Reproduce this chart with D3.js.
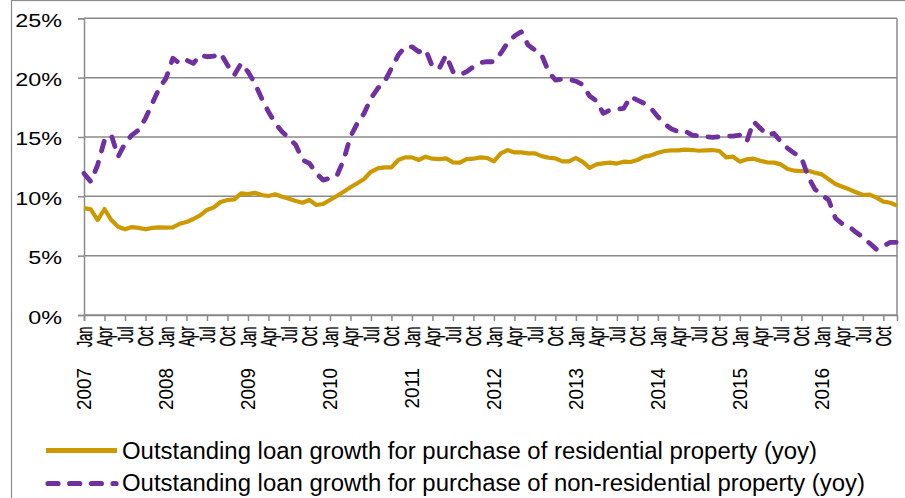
<!DOCTYPE html>
<html>
<head>
<meta charset="utf-8">
<script src="https://cdn.jsdelivr.net/npm/d3@7"></script>
<style>
  html, body { margin: 0; padding: 0; background: #fff; }
  svg { display: block; }
  text { font-family: "Liberation Sans", Arial, Helvetica, sans-serif; fill: #000; }
</style>
</head>
<body>
<svg id="chart" width="905" height="498"></svg>
<script>
// Year-on-year growth of outstanding property loans, monthly Jan 2007 - Dec 2016 (%)
const years = [2007, 2008, 2009, 2010, 2011, 2012, 2013, 2014, 2015, 2016];
const monthNames = ["Jan", "Feb", "Mar", "Apr", "May", "Jun", "Jul", "Aug", "Sep", "Oct", "Nov", "Dec"];
const yTicks = [0, 5, 10, 15, 20, 25];

const residential = [
  9.0, 8.9, 8.0, 8.93, 8.0, 7.44, 7.22, 7.41, 7.34, 7.22, 7.34, 7.38,
  7.36, 7.38, 7.69, 7.83, 8.09, 8.40, 8.85, 9.07, 9.52, 9.69, 9.74, 10.25,
  10.19, 10.3, 10.11, 10.03, 10.17, 9.97, 9.8, 9.6, 9.46, 9.69, 9.27, 9.35,
  9.69, 10.03, 10.39, 10.76, 11.1, 11.46, 12.07, 12.36, 12.44, 12.44, 13.06, 13.28,
  13.28, 13.06, 13.34, 13.17, 13.14, 13.2, 12.86, 12.84, 13.14, 13.17, 13.28, 13.23,
  12.95, 13.62, 13.9, 13.7, 13.7, 13.62, 13.62, 13.39, 13.25, 13.2, 12.95, 12.95,
  13.23, 12.9, 12.4, 12.69, 12.78, 12.84, 12.76, 12.92, 12.89, 13.06, 13.34, 13.45,
  13.67, 13.82, 13.87, 13.87, 13.93, 13.9, 13.84, 13.87, 13.9, 13.82, 13.28, 13.34,
  12.92, 13.12, 13.17, 13.0, 12.86, 12.84, 12.69, 12.3, 12.16, 12.13, 12.16, 11.99,
  11.85, 11.43, 11.04, 10.81, 10.59, 10.34, 10.11, 10.14, 9.89, 9.55, 9.46, 9.21
];

const nonResidential = [
  11.93, 11.23, 12.64, 14.74, 15.16, 13.34, 14.46, 15.16, 15.59, 16.57, 17.83, 19.1,
  19.94, 21.63, 21.2, 21.48, 21.2, 21.9, 21.76, 21.81, 22.05, 21.06, 20.22, 21.2,
  20.5, 19.52, 18.26, 17.13, 16.15, 15.44, 14.9, 14.32, 13.06, 12.78, 11.94, 11.37,
  11.52, 11.71, 13.06, 15.02, 16.15, 16.99, 18.26, 19.1, 19.66, 20.78, 21.9, 22.6,
  22.6, 22.18, 22.38, 20.92, 20.78, 21.9, 20.5, 20.22, 20.5, 20.92, 21.26, 21.34,
  21.34, 22.05, 22.94, 23.5, 23.87, 22.75, 22.33, 21.9, 20.5, 19.8, 19.88, 19.85,
  19.7, 19.4, 18.45, 18.05, 16.99, 17.27, 17.33, 17.41, 18.39, 18.11, 17.83, 17.41,
  16.71, 16.09, 15.67, 15.44, 15.5, 15.16, 15.08, 15.02, 14.97, 15.02, 15.08, 15.08,
  15.16, 14.6, 16.29, 15.73, 15.16, 15.3, 14.6, 14.04, 13.62, 13.28, 11.65, 10.59,
  10.11, 9.69, 8.15, 7.67, 7.44, 6.97, 6.55, 6.04, 5.53, 5.81, 6.12, 6.12
];

const seriesNames = [
  "Outstanding loan growth for purchase of residential property (yoy)",
  "Outstanding loan growth for purchase of non-residential property (yoy)"
];
const colors = { residential: "#CC9900", nonResidential: "#7030A0" };

// one category per month
const categories = [];
years.forEach(y => monthNames.forEach(m => categories.push({ year: y, month: m })));

const svg = d3.select("#chart");
const plot = { left: 84, right: 897, top: 18.3, bottom: 315 };

const x = d3.scaleLinear().domain([0, categories.length - 1]).range([plot.left, plot.right]);
const y = d3.scaleLinear().domain([0, 25]).range([plot.bottom, plot.top]);

// outer chart frame
svg.append("rect")
  .attr("x", 11.5).attr("y", 0.5).attr("width", 1000).attr("height", 1000)
  .attr("fill", "none").attr("stroke", "#8c8c8c").attr("stroke-width", 1.2);

// horizontal gridlines
svg.append("g").selectAll("line").data(yTicks).join("line")
  .attr("x1", plot.left).attr("x2", plot.right)
  .attr("y1", d => y(d)).attr("y2", d => y(d))
  .attr("stroke", "#8a8a8a").attr("stroke-width", 1.5);

// plot right edge
svg.append("line")
  .attr("x1", plot.right).attr("x2", plot.right)
  .attr("y1", plot.top).attr("y2", plot.bottom)
  .attr("stroke", "#8a8a8a").attr("stroke-width", 1.5);

// y axis
const yAxis = svg.append("g").attr("transform", `translate(${plot.left},0)`)
  .call(d3.axisLeft(y).tickValues(yTicks).tickSize(6).tickFormat(d => d + "%"));
yAxis.select(".domain").attr("stroke", "#8a8a8a").attr("stroke-width", 1.5);
yAxis.selectAll(".tick line").attr("stroke", "#8a8a8a").attr("stroke-width", 1.5);
yAxis.selectAll(".tick text").remove();
yAxis.selectAll(".tick").append("g")
  .attr("transform", "translate(-22,8)")
  .append("text")
  .attr("text-anchor", "end")
  .attr("font-size", 19)
  .attr("transform", "scale(1.23,1)")
  .text(d => d + "%");

// x axis: a tick every quarter
const quarterIdx = d3.range(0, categories.length, 3);
const xAxis = svg.append("g").attr("transform", `translate(0,${plot.bottom})`)
  .call(d3.axisBottom(x).tickValues(quarterIdx).tickSize(6).tickFormat(""));
xAxis.select(".domain").attr("stroke", "#8a8a8a").attr("stroke-width", 1.5);
xAxis.selectAll(".tick line").attr("stroke", "#8a8a8a").attr("stroke-width", 1.5);

// rotated month labels
const lbl = svg.append("g");
lbl.selectAll("g.m").data(quarterIdx).join("g")
  .attr("class", "m")
  .attr("transform", i => `translate(${x(i)},326.5) rotate(-90)`)
  .append("text")
  .attr("text-anchor", "end")
  .attr("font-size", 21.5)
  .attr("transform", "scale(0.6,1)")
  .attr("y", 7.7)
  .attr("stroke", "#000")
  .attr("stroke-width", 0.35)
  .text(i => categories[i].month);

// rotated year labels under each January
lbl.selectAll("g.yr").data(quarterIdx.filter(i => categories[i].month === "Jan")).join("g")
  .attr("class", "yr")
  .attr("transform", i => `translate(${x(i)},368) rotate(-90)`)
  .append("text")
  .attr("text-anchor", "end")
  .attr("font-size", 20.5)
  .attr("transform", "scale(0.92,1)")
  .attr("y", 7.4)
  .text(i => categories[i].year);

// series lines
const line = d3.line().x((d, i) => x(i)).y(d => y(d)).curve(d3.curveLinear);

svg.append("path").datum(residential)
  .attr("d", line)
  .attr("fill", "none")
  .attr("stroke", colors.residential)
  .attr("stroke-width", 4.2)
  .attr("stroke-linejoin", "round");

svg.append("path").datum(nonResidential)
  .attr("d", line)
  .attr("fill", "none")
  .attr("stroke", colors.nonResidential)
  .attr("stroke-width", 4.8)
  .attr("stroke-linecap", "round")
  .attr("stroke-linejoin", "round")
  .attr("stroke-dasharray", "10 11.7");

// legend
const legend = svg.append("g");
const legendRows = [
  { name: seriesNames[0], color: colors.residential, dash: null, cy: 450.5, base: 458.5 },
  { name: seriesNames[1], color: colors.nonResidential, dash: "10 11.7", cy: 483.5, base: 491 }
];
legendRows.forEach(r => {
  legend.append("line")
    .attr("x1", r.dash ? 48 : 46).attr("x2", r.dash ? 116 : 117)
    .attr("y1", r.cy).attr("y2", r.cy)
    .attr("stroke", r.color)
    .attr("stroke-width", 5.2)
    .attr("stroke-linecap", r.dash ? "round" : "butt")
    .attr("stroke-dasharray", r.dash);
  legend.append("g").attr("transform", `translate(122,${r.base})`)
    .append("text")
    .attr("font-size", 23)
    .attr("transform", "scale(1.04,1)")
    .text(r.name);
});
</script>
</body>
</html>
